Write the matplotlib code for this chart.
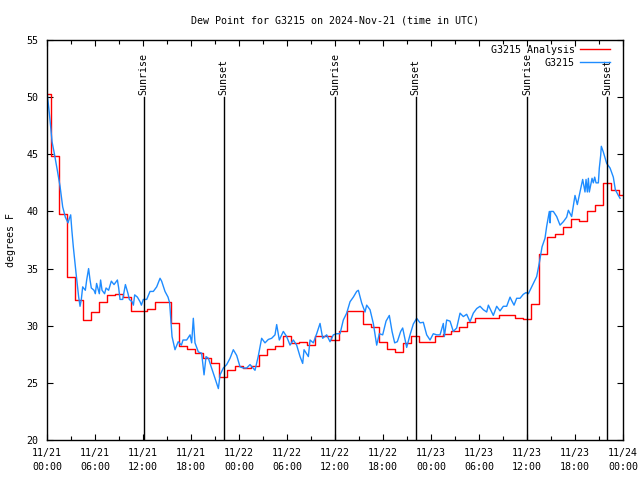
import matplotlib
matplotlib.use("Agg")
import matplotlib.pyplot as plt
import matplotlib.dates as mdates
from datetime import datetime, timedelta

START = datetime(2024, 11, 21)

# hourly analysis values, one per hour from 11/21 00:00 (drawn as centred steps)
analysis_dew = [
    50.3, 44.85, 39.8, 34.3, 32.25, 30.5, 31.2, 32.1, 32.7, 32.8,
    32.5, 31.3, 31.3, 31.5, 32.1, 32.1, 30.2, 28.2, 28.0, 27.6,
    27.2, 26.7, 25.5, 26.1, 26.5, 26.3, 26.5, 27.4, 28.0, 28.2,
    29.1, 28.5, 28.6, 28.3, 29.1, 29.1, 28.75, 29.5, 31.25, 31.25,
    30.15, 29.9, 28.6, 28.0, 27.7, 28.5, 29.1, 28.6, 28.6, 29.1,
    29.3, 29.5, 29.9, 30.3, 30.7, 30.7, 30.7, 30.9, 30.9, 30.7,
    30.6, 31.9, 36.3, 37.8, 38.0, 38.6, 39.3, 39.2, 40.0, 40.6,
    42.5, 41.9, 41.4,
]

# station observations: hours after 11/21 00:00 and dew point
obs_hours = [
    0.0, 0.04, 0.29, 0.46, 0.63, 0.96, 1.29, 1.63, 1.96, 2.29,
    2.63, 2.8, 2.96, 3.1, 3.29, 3.63, 3.96, 4.13, 4.29, 4.46,
    4.79, 4.96, 5.2, 5.38, 5.54, 5.88, 6.04, 6.2, 6.54, 6.7,
    6.88, 7.2, 7.38, 7.7, 8.04, 8.38, 8.8, 8.96, 9.13, 9.46,
    9.8, 10.13, 10.29, 10.63, 10.8, 10.96, 11.3, 11.63, 11.8, 12.04,
    12.46, 12.88, 13.29, 13.71, 14.13, 14.33, 14.75, 15.13, 15.33, 15.63,
    16.0, 16.4, 16.8, 17.0, 17.46, 17.88, 18.08, 18.29, 18.5, 18.92,
    19.33, 19.63, 19.88, 20.17, 20.58, 21.0, 21.42, 21.63, 22.04, 22.46,
    22.88, 23.29, 23.71, 24.13, 24.54, 24.96, 25.38, 26.0, 26.4, 26.83,
    27.25, 27.67, 28.08, 28.5, 28.71, 29.04, 29.54, 29.96, 30.38, 30.79,
    31.21, 31.63, 31.96, 32.13, 32.67, 32.88, 33.29, 33.71, 34.13, 34.46,
    34.96, 35.38, 35.79, 36.21, 36.63, 37.04, 37.46, 37.88, 38.29, 38.71,
    38.92, 39.33, 39.75, 39.96, 40.38, 40.79, 41.21, 41.54, 41.96, 42.38,
    42.79, 43.13, 43.46, 43.79, 44.21, 44.46, 44.96, 45.38, 45.79, 46.21,
    46.63, 47.04, 47.46, 47.88, 48.29, 48.71, 49.13, 49.54, 49.67, 49.96,
    50.38, 50.79, 51.21, 51.63, 52.04, 52.46, 52.88, 53.29, 53.71, 54.13,
    54.54, 54.96, 55.17, 55.79, 56.21, 56.63, 57.04, 57.46, 57.88, 58.08,
    58.38, 58.71, 59.13, 59.54, 59.88, 60.17, 60.38, 60.79, 61.21, 61.54,
    61.88, 62.25, 62.46, 62.79, 62.88, 62.96, 63.29, 63.71, 64.13, 64.54,
    64.96, 65.17, 65.58, 66.0, 66.29, 66.63, 66.96, 67.25, 67.38, 67.54,
    67.67, 67.79, 68.13, 68.29, 68.46, 68.63, 68.92, 69.04, 69.21, 69.29,
    69.54, 69.96, 70.38, 70.79, 71.04, 71.42, 71.63,
]
obs_dew = [
    50.3, 50.2, 48.6, 47.4, 46.1, 44.9, 43.6, 42.2, 40.4, 39.5,
    39.0, 39.4, 39.7, 38.4, 36.9, 34.6, 32.5, 31.7, 32.3, 33.4,
    33.1, 34.0, 35.0, 34.0, 33.3, 33.1, 32.8, 33.7, 32.8, 34.0,
    33.1, 32.8, 33.3, 33.1, 33.9, 33.6, 34.0, 33.3, 32.3, 32.3,
    33.6, 32.8, 32.3, 32.1, 31.8, 32.7, 32.5, 32.1, 31.8, 32.3,
    32.3, 33.0, 33.0, 33.4, 34.15, 33.9, 33.0, 32.5, 32.0, 29.05,
    27.9, 28.6, 28.3, 28.75, 28.75, 29.2, 28.5, 30.65, 28.5, 27.7,
    27.6, 25.7, 27.3, 27.15, 26.3, 25.4, 24.5, 25.7, 26.3, 26.6,
    27.15, 27.9, 27.4, 26.4, 26.3, 26.3, 26.6, 26.1, 27.3, 28.9,
    28.5, 28.8, 28.9, 29.2, 30.1, 28.75, 29.5, 29.05, 28.3, 28.75,
    28.3, 27.3, 26.7, 27.9, 27.3, 28.75, 28.5, 29.3, 30.2, 28.9,
    29.2, 28.6, 29.2, 29.3, 29.3, 30.5, 31.1, 32.1, 32.5, 33.0,
    33.1, 32.0, 31.2, 31.8, 31.4, 30.2, 28.3, 29.3, 29.2, 30.4,
    30.9, 29.5, 28.5, 28.6, 29.5, 29.8, 28.1, 29.2, 30.15, 30.65,
    30.25, 30.3, 29.2, 28.75, 29.3, 29.2, 29.2, 30.2, 29.05, 30.5,
    30.4, 29.5, 29.8, 31.1, 30.8, 31.0, 30.35, 31.1, 31.5, 31.7,
    31.4, 31.2, 31.8, 30.9, 31.7, 31.3, 31.7, 31.7, 32.5, 32.2,
    31.8, 32.4, 32.4, 32.75, 32.9, 32.8, 33.1, 33.7, 34.3, 35.5,
    36.9, 37.65, 38.7, 40.0, 39.0, 40.0, 40.0, 39.55, 38.8, 39.1,
    39.5, 40.1, 39.55, 41.4, 40.6, 41.7, 42.8, 41.7, 42.8, 41.7,
    42.9, 41.7, 42.9, 42.5, 43.0, 42.5, 42.5, 43.8, 44.9, 45.7,
    45.2, 44.2, 43.8, 43.0, 41.9, 41.4, 41.15,
]

# sunrise / sunset times, hours after 11/21 00:00 UTC
sun_labels = ["Sunrise", "Sunset", "Sunrise", "Sunset", "Sunrise", "Sunset"]
sun_hours = [12.1, 22.1, 36.05, 46.1, 60.05, 70.05]

MONO = "DejaVu Sans Mono"
FS = 7.2


def to_time(h):
    return START + timedelta(hours=h)


fig = plt.figure(figsize=(6.4, 4.8), dpi=100)
ax = fig.add_axes([47 / 640, 40 / 480, 576 / 640, 400 / 480])

an_times = [to_time(h) for h in range(len(analysis_dew))]
obs_times = [to_time(h) for h in obs_hours]

ax.step(an_times, analysis_dew, where="mid", color="#ff0000", lw=1.0,
        label="G3215 Analysis")
ax.plot(obs_times, obs_dew, color="#1e8cff", lw=1.0, label="G3215")

for name, h in zip(sun_labels, sun_hours):
    t = to_time(h)
    ax.plot([t, t], [20, 50], color="black", lw=1.0)
    ax.text(t, 50.2, name, rotation=90, ha="center", va="bottom",
            fontsize=FS, family=MONO)

ax.set_xlim(START, START + timedelta(hours=72))
ax.set_ylim(20, 55)
ax.set_yticks(range(20, 56, 5))

ax.xaxis.set_major_locator(mdates.HourLocator(byhour=[0, 6, 12, 18]))
ax.xaxis.set_minor_locator(mdates.HourLocator(byhour=[3, 9, 15, 21]))
ax.xaxis.set_major_formatter(mdates.DateFormatter("%m/%d\n%H:%M"))

ax.tick_params(which="both", direction="in", top=True, right=True,
               width=0.8, labelsize=FS)
ax.tick_params(which="major", length=4.5, pad=6)
ax.tick_params(which="minor", length=3)
for lab in ax.get_xticklabels() + ax.get_yticklabels():
    lab.set_family(MONO)
    lab.set_linespacing(1.5)

for s in ax.spines.values():
    s.set_linewidth(1.0)

ax.set_ylabel("degrees F", fontsize=FS, family=MONO, labelpad=8)
ax.set_title("Dew Point for G3215 on 2024-Nov-21 (time in UTC)",
             fontsize=FS, family=MONO, pad=12)

ax.legend(loc="upper right", bbox_to_anchor=(0.986, 1.0), frameon=False,
          markerfirst=False, prop={"family": MONO, "size": FS},
          handlelength=3.0, handletextpad=0.5, labelspacing=0.3,
          borderaxespad=0.2, borderpad=0.3)

fig.savefig("out.png", dpi=100)
